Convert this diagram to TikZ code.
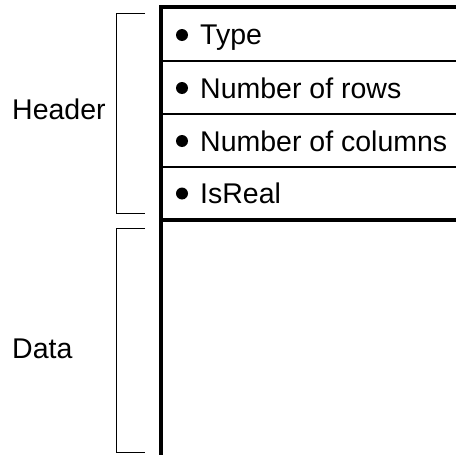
\documentclass[tikz,border=0pt]{standalone}
\usepackage{fontspec}
\setmainfont{Liberation Sans}
\begin{document}
\begin{tikzpicture}[x=1pt,y=-1pt,
  every node/.style={font=\fontsize{28.5}{34}\selectfont, inner sep=0pt, anchor=base west},
  frame/.style={line width=3.2pt},
  rowline/.style={line width=1.2pt},
  brace/.style={line width=0.9pt},
  dot/.style={fill=black}]
\useasboundingbox (0,0) rectangle (456,455);
% table frame
\draw[frame] (456,7) -- (161,7) -- (161,455);
\draw[rowline] (161,61) -- (456,61);
\draw[rowline] (161,114) -- (456,114);
\draw[rowline] (161,167) -- (456,167);
\draw[frame] (161,220) -- (456,220);
% header fields
\node (type) at (200,45) {Type};
\node (rows) at (200,98) {Number of rows};
\node (cols) at (200,151) {Number of columns};
\node (real) at (200,203.5) {IsReal};
\foreach \n in {type,rows,cols,real}
  \fill[dot] ([xshift=-18pt,yshift=10pt]\n.base west) circle (6pt);
% brackets
\draw[brace] (145,13) -- (116,13) -- (116,213) -- (145,213);
\draw[brace] (145,228) -- (116,228) -- (116,452) -- (145,452);
\node (header) at (12,119.5) {Header};
\node (data) at (12,358.5) {Data};
\end{tikzpicture}
\end{document}
